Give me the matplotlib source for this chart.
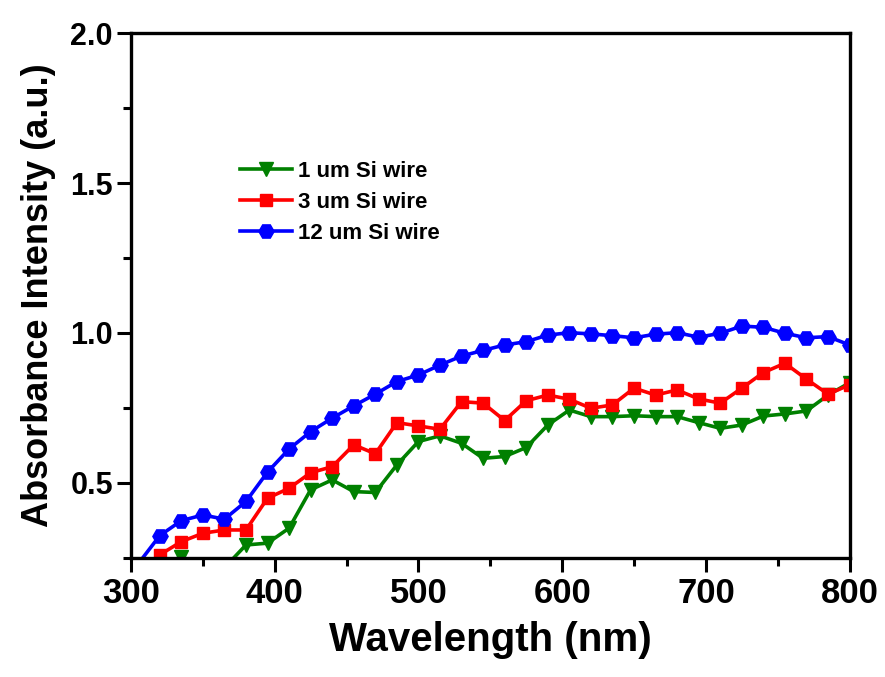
import matplotlib
matplotlib.use("Agg")
import matplotlib.pyplot as plt
from matplotlib.ticker import MultipleLocator

plt.rcParams['font.family'] = ['Liberation Sans', 'DejaVu Sans']
plt.rcParams['font.weight'] = 'bold'

# wavelength grid (nm) and absorbance
wavelength = [305, 320, 335, 350, 365, 380, 395, 410, 425, 440,
              455, 470, 485, 500, 515, 530, 545, 560, 575, 590,
              605, 620, 635, 650, 665, 680, 695, 710, 725, 740,
              755, 770, 785, 800]

abs_1um = [0.20, 0.22, 0.254, 0.22, 0.217, 0.293, 0.299, 0.349, 0.477, 0.51,
           0.471, 0.468, 0.56, 0.638, 0.657, 0.632, 0.582, 0.588, 0.618, 0.693,
           0.743, 0.721, 0.721, 0.724, 0.721, 0.721, 0.701, 0.682, 0.693, 0.723,
           0.73, 0.74, 0.793, 0.834]

abs_3um = [0.20, 0.26, 0.304, 0.332, 0.343, 0.343, 0.449, 0.482, 0.534, 0.554,
           0.627, 0.597, 0.701, 0.69, 0.679, 0.771, 0.766, 0.708, 0.774, 0.793,
           0.779, 0.749, 0.76, 0.816, 0.793, 0.81, 0.78, 0.766, 0.816, 0.868,
           0.899, 0.846, 0.796, 0.827]

abs_12um = [0.23, 0.324, 0.374, 0.393, 0.379, 0.438, 0.536, 0.613, 0.671, 0.716,
            0.757, 0.796, 0.838, 0.86, 0.893, 0.923, 0.942, 0.96, 0.971, 0.993,
            1.001, 0.997, 0.991, 0.984, 0.996, 1.001, 0.986, 0.999, 1.023, 1.019,
            0.999, 0.984, 0.988, 0.96]

labels = ["1 um Si wire", "3 um Si wire", "12 um Si wire"]

fig = plt.figure(figsize=(8.85, 6.77), dpi=100)
ax = fig.add_axes([0.148, 0.176, 0.812, 0.775])

ax.plot(wavelength, abs_1um, color='#008000', lw=2.6, marker='v', ms=10,
        label=labels[0])
ax.plot(wavelength, abs_3um, color='#ff0000', lw=2.6, marker='s', ms=9,
        label=labels[1])
ax.plot(wavelength, abs_12um, color='#0000ff', lw=2.6, marker='H', ms=11,
        label=labels[2])

ax.set_xlim(300, 800)
ax.set_ylim(0.25, 2.0)
ax.xaxis.set_major_locator(MultipleLocator(100))
ax.xaxis.set_minor_locator(MultipleLocator(50))
ax.yaxis.set_major_locator(MultipleLocator(0.5))
ax.yaxis.set_minor_locator(MultipleLocator(0.25))
ax.set_yticks([0.5, 1.0, 1.5, 2.0])

for s in ax.spines.values():
    s.set_linewidth(2.4)

ax.tick_params(which='both', direction='out', width=2.2, right=False, top=False)
ax.tick_params(which='major', length=10)
ax.tick_params(which='minor', length=6)
ax.tick_params(axis='x', labelsize=25, pad=4)
ax.tick_params(axis='y', labelsize=22, pad=3)
for lab in ax.get_xticklabels() + ax.get_yticklabels():
    lab.set_fontweight('bold')

ax.set_xlabel("Wavelength (nm)", fontsize=29, fontweight='bold', labelpad=8)
ax.set_ylabel("Absorbance Intensity (a.u.)", fontsize=26, fontweight='bold', labelpad=10)

ax.legend(loc='upper left', bbox_to_anchor=(0.14, 0.774), frameon=False,
          numpoints=1, handlelength=2.3, handletextpad=0.3,
          labelspacing=0.45, borderaxespad=0,
          prop={'weight': 'bold', 'size': 16})

fig.savefig("out.png", dpi=100)
